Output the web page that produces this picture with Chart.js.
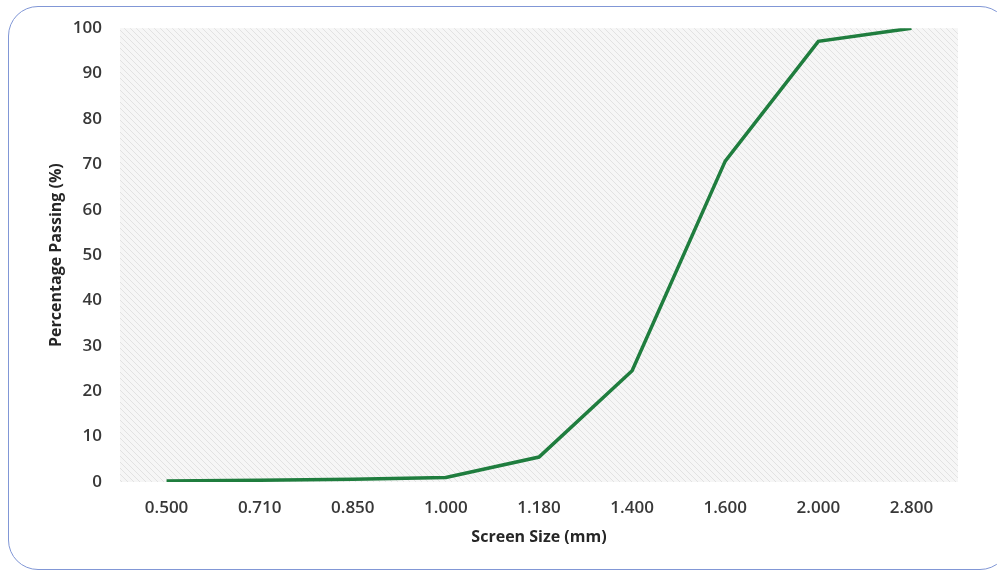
<!DOCTYPE html>
<html lang="en">
<head>
  <meta charset="UTF-8" />
  <title>Screen Size vs Percentage Passing</title>
  <script src="https://cdn.jsdelivr.net/npm/chart.js"></script>
  <style>
    html, body {
      margin: 0;
      padding: 0;
      background: #ffffff;
      overflow: hidden;
    }
    .frame {
      position: absolute;
      left: 8px;
      top: 6px;
      width: 1000px;
      height: 562px;
      border: 1.5px solid #8197d6;
      border-radius: 30px;
    }
    .wrap {
      position: absolute;
      left: 0;
      top: 0;
      width: 997px;
      height: 571px;
    }
  </style>
</head>
<body>
  <div class="frame"></div>
  <div class="wrap">
    <canvas id="gradingChart" width="997" height="571"></canvas>
  </div>

  <script>
    // sieve sizes and cumulative passing
    const screenSizes = ['0.500', '0.710', '0.850', '1.000', '1.180', '1.400', '1.600', '2.000', '2.800'];
    const percentPassing = [0.2, 0.4, 0.6, 1.0, 5.5, 24.5, 70.7, 97.1, 100];
    const yTicks = [0, 10, 20, 30, 40, 50, 60, 70, 80, 90, 100];

    // diagonal hatch for the plot area
    const makeHatch = () => {
      const c = document.createElement('canvas');
      c.width = 6;
      c.height = 6;
      const g = c.getContext('2d');
      g.fillStyle = '#f6f6f6';
      g.fillRect(0, 0, 6, 6);
      g.strokeStyle = '#e2e2e2';
      g.lineWidth = 1;
      g.beginPath();
      g.moveTo(-1, -1); g.lineTo(7, 7);
      g.moveTo(-7, -1); g.lineTo(1, 7);
      g.moveTo(5, -1); g.lineTo(13, 7);
      g.stroke();
      return g.createPattern(c, 'repeat');
    };

    const plotBackground = {
      id: 'plotBackground',
      beforeDraw(chart) {
        const { ctx, chartArea: a } = chart;
        ctx.save();
        ctx.fillStyle = makeHatch();
        ctx.fillRect(a.left, a.top, a.right - a.left, a.bottom - a.top);
        ctx.restore();
      }
    };

    const tickFont = { family: '"Open Sans", sans-serif', size: 17, weight: '600' };
    const titleFont = { family: '"Open Sans", sans-serif', size: 16, weight: 'bold' };

    new Chart(document.getElementById('gradingChart'), {
      type: 'line',
      data: {
        labels: screenSizes,
        datasets: [{
          label: 'Percentage Passing',
          data: percentPassing,
          borderColor: '#1f7d3e',
          borderWidth: 3.5,
          pointRadius: 0,
          tension: 0,
          fill: false
        }]
      },
      options: {
        responsive: false,
        animation: false,
        layout: { padding: { left: 43, top: 26, right: 39, bottom: 20 } },
        plugins: {
          legend: { display: false },
          tooltip: { enabled: false }
        },
        scales: {
          x: {
            type: 'category',
            offset: true,
            grid: { display: false, drawTicks: false },
            border: { display: false },
            ticks: { color: '#383838', font: tickFont, padding: 16, maxRotation: 0 },
            title: { display: true, text: 'Screen Size (mm)', color: '#262626', font: titleFont, padding: { top: 4, bottom: 4 } },
            afterFit(scale) { scale.height = 69; }
          },
          y: {
            min: 0,
            max: 100,
            afterBuildTicks(scale) { scale.ticks = yTicks.map(v => ({ value: v })); },
            grid: { display: false, drawTicks: false },
            border: { display: false },
            ticks: { color: '#383838', font: tickFont, padding: 18 },
            title: { display: true, text: 'Percentage Passing (%)', color: '#262626', font: titleFont, padding: { top: 4, bottom: 4 } },
            afterFit(scale) { scale.width = 77; }
          }
        }
      },
      plugins: [plotBackground]
    });
  </script>
</body>
</html>
